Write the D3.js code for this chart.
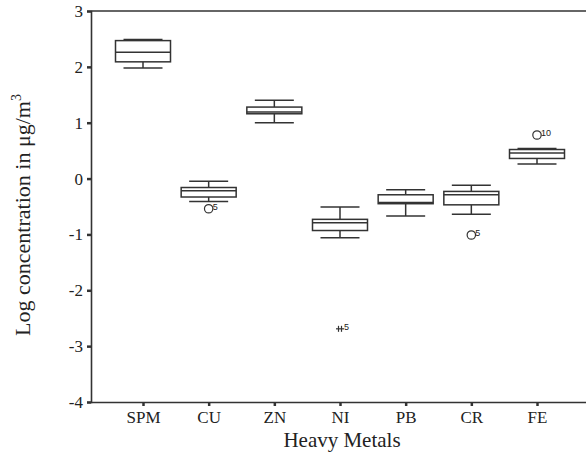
<!DOCTYPE html>
<html lang="en">
<head>
  <meta charset="UTF-8">
  <title>Heavy metals boxplot</title>
  <script src="https://d3js.org/d3.v7.min.js"></script>
  <style>
    body { margin: 0; background: #fff; }
    text { font-family: "Liberation Serif", "DejaVu Serif", serif; fill: #222; }
  </style>
</head>
<body>
  <svg id="chart" width="586" height="455"></svg>
  <script>
    // categories and box statistics (log10 concentration)
    const metals = ["SPM", "CU", "ZN", "NI", "PB", "CR", "FE"];
    const whiskerLow  = [1.98, -0.41, 1.00, -1.06, -0.67, -0.64, 0.26];
    const q1          = [2.09, -0.33, 1.16, -0.93, -0.45, -0.47, 0.36];
    const median      = [2.26, -0.22, 1.19, -0.79, -0.43, -0.29, 0.46];
    const q3          = [2.47, -0.16, 1.28, -0.73, -0.29, -0.23, 0.52];
    const whiskerHigh = [2.49, -0.05, 1.40, -0.51, -0.20, -0.12, 0.54];

    // outliers: category, value, case label, symbol
    const outlierMetal = ["CU", "NI", "CR", "FE"];
    const outlierValue = [-0.54, -2.69, -1.01, 0.78];
    const outlierLabel = ["5", "5", "5", "10"];
    const outlierKind  = ["circle", "star", "circle", "circle"];

    const yTicks = [3, 2, 1, 0, -1, -2, -3, -4];

    const svg = d3.select("#chart");
    const plotLeft = 91, plotTop = 11, plotBottom = 402, plotRight = 586;

    const x = d3.scalePoint().domain(metals).range([143, 537]);
    const y = d3.scaleLinear().domain([-4, 3]).range([plotBottom, plotTop]);

    const boxW = 55, capW = 39;

    // frame: top line, left axis, bottom axis
    svg.append("line").attr("x1", plotLeft).attr("x2", plotRight).attr("y1", plotTop).attr("y2", plotTop)
       .attr("stroke", "#333").attr("stroke-width", 1.3);

    const yAxis = svg.append("g").attr("transform", `translate(${plotLeft},0)`)
       .call(d3.axisLeft(y).tickValues(yTicks).tickSize(4).tickFormat(d => String(d)));
    yAxis.select(".domain").attr("stroke", "#333").attr("stroke-width", 1.6);
    yAxis.selectAll(".tick line").attr("stroke", "#333").attr("stroke-width", 2.5);
    yAxis.selectAll(".tick text").attr("font-size", 17).attr("x", -8)
       .style("font-family", "Liberation Serif, serif").attr("fill", "#222");

    const xAxis = svg.append("g").attr("transform", `translate(0,${plotBottom})`)
       .call(d3.axisBottom(x).tickSize(4).tickSizeOuter(0));
    xAxis.select(".domain").attr("d", `M${plotLeft},0.5H${plotRight}`)
       .attr("stroke", "#333").attr("stroke-width", 1.6);
    xAxis.selectAll(".tick line").attr("stroke", "#333").attr("stroke-width", 2.5);
    xAxis.selectAll(".tick text").attr("font-size", 17).attr("y", 9)
       .style("font-family", "Liberation Serif, serif").attr("fill", "#222");

    // boxes
    const g = svg.append("g").attr("stroke", "#333").attr("fill", "none");
    metals.forEach((m, i) => {
      const cx = x(m);
      g.append("line").attr("x1", cx).attr("x2", cx)
        .attr("y1", y(whiskerHigh[i])).attr("y2", y(q3[i])).attr("stroke-width", 1.5);
      g.append("line").attr("x1", cx).attr("x2", cx)
        .attr("y1", y(q1[i])).attr("y2", y(whiskerLow[i])).attr("stroke-width", 1.5);
      g.append("line").attr("x1", cx - capW / 2).attr("x2", cx + capW / 2)
        .attr("y1", y(whiskerHigh[i])).attr("y2", y(whiskerHigh[i])).attr("stroke-width", 1.5);
      g.append("line").attr("x1", cx - capW / 2).attr("x2", cx + capW / 2)
        .attr("y1", y(whiskerLow[i])).attr("y2", y(whiskerLow[i])).attr("stroke-width", 1.5);
      g.append("rect").attr("x", cx - boxW / 2).attr("y", y(q3[i]))
        .attr("width", boxW).attr("height", y(q1[i]) - y(q3[i]))
        .attr("fill", "#fff").attr("stroke-width", 1.5);
      g.append("line").attr("x1", cx - boxW / 2).attr("x2", cx + boxW / 2)
        .attr("y1", y(median[i])).attr("y2", y(median[i])).attr("stroke-width", 1.5);
    });

    // outliers
    outlierMetal.forEach((m, i) => {
      const cx = x(m), cy = y(outlierValue[i]);
      if (outlierKind[i] === "circle") {
        g.append("circle").attr("cx", cx).attr("cy", cy).attr("r", 4.2)
          .attr("fill", "#fff").attr("stroke-width", 1.2);
      } else {
        g.append("line").attr("x1", cx - 4).attr("x2", cx + 4).attr("y1", cy).attr("y2", cy).attr("stroke-width", 1.2);
        g.append("line").attr("x1", cx - 1.5).attr("x2", cx - 1.5).attr("y1", cy - 3).attr("y2", cy + 3).attr("stroke-width", 1.2);
        g.append("line").attr("x1", cx + 1.5).attr("x2", cx + 1.5).attr("y1", cy - 3).attr("y2", cy + 3).attr("stroke-width", 1.2);
      }
      svg.append("text").attr("x", cx + 4).attr("y", cy + 1)
        .attr("font-size", 9).style("font-family", "Liberation Sans, sans-serif")
        .text(outlierLabel[i]);
    });

    // axis titles
    svg.append("text").attr("x", 342).attr("y", 447).attr("text-anchor", "middle")
      .attr("font-size", 21).text("Heavy Metals");

    const yl = svg.append("text").attr("transform", "translate(30,215) rotate(-90)")
      .attr("text-anchor", "middle").attr("font-size", 22);
    yl.append("tspan").text("Log concentration in μg/m");
    yl.append("tspan").attr("dy", -9).attr("font-size", 14).text("3");
  </script>
</body>
</html>
